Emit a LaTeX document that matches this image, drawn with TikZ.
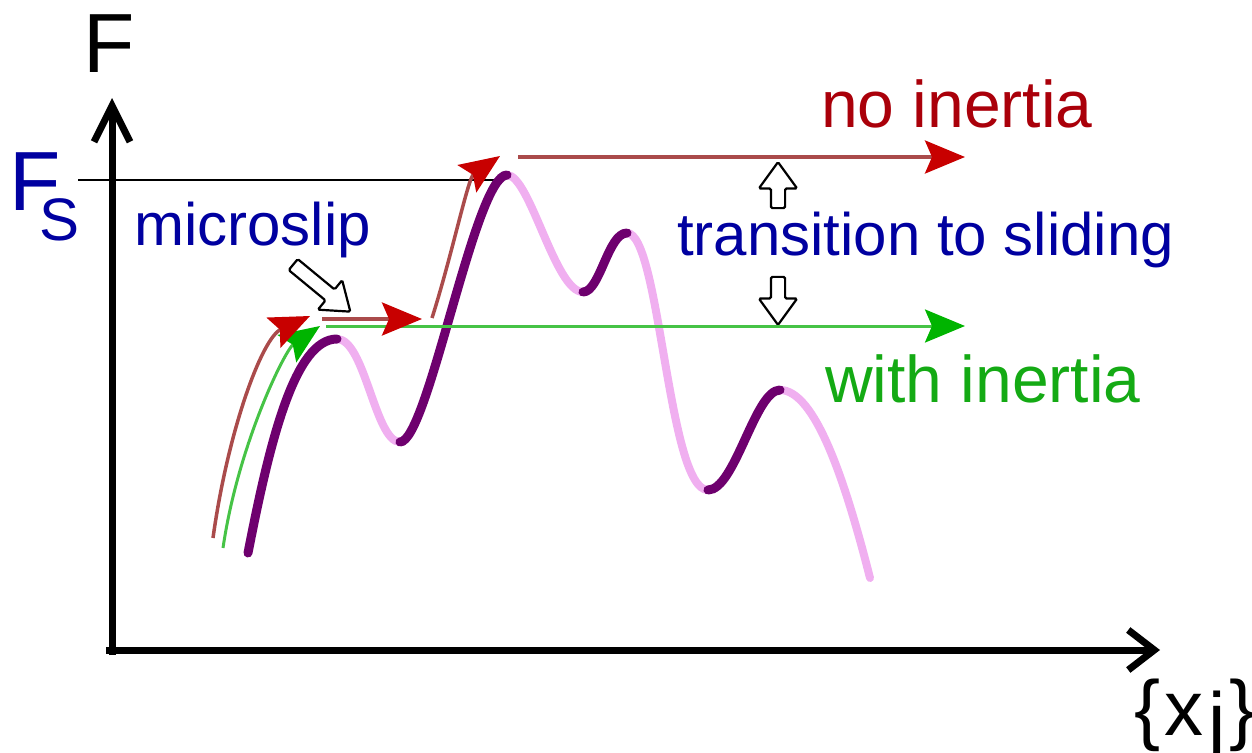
\documentclass[tikz,border=0pt]{standalone}
\usepackage{fontspec}
\setmainfont{Liberation Sans}
\usetikzlibrary{arrows.meta,shapes.arrows}
\definecolor{txtblue}{RGB}{0,0,160}
\definecolor{txtred}{RGB}{170,0,10}
\definecolor{txtgreen}{RGB}{20,170,20}
\definecolor{headred}{RGB}{200,0,0}
\definecolor{linered}{RGB}{170,75,75}
\definecolor{headgreen}{RGB}{0,180,0}
\definecolor{linegreen}{RGB}{70,195,70}
\definecolor{darkpurple}{RGB}{110,0,110}
\definecolor{lightpink}{RGB}{240,175,240}
\begin{document}
\begin{tikzpicture}[x=1pt,y=-1pt,
  axisline/.style={line width=7pt},
  pinkseg/.style={draw=lightpink, line width=8pt, line cap=round},
  darkseg/.style={draw=darkpurple, line width=9pt, line cap=round},
  redarrow/.style={draw=linered, line width=3.5pt,
    -{Stealth[length=40pt,width=33pt,inset=7pt,color=headred]}},
  greenarrow/.style={draw=linegreen, line width=3pt,
    -{Stealth[length=40pt,width=33pt,inset=7pt,color=headgreen]}},
  hollow/.style={single arrow, draw=black, fill=white, line width=2.2pt,
    inner sep=6pt, single arrow head extend=12pt, single arrow tip angle=72,
    rounded corners=1.5pt},
  lbl/.style={inner sep=0pt, anchor=base west}
]
\useasboundingbox (0,0) rectangle (1252,752);

% F_S level line
\coordinate (fsl) at (78,180);
\coordinate (fsr) at (498,180);
\draw[line width=2pt] (fsl) -- (fsr);

% energy landscape curve
\coordinate (p0) at (248,553);
\coordinate (p1) at (337,339);
\coordinate (p2) at (400,442);
\coordinate (p3) at (507,175);
\coordinate (p4) at (583,292);
\coordinate (p5) at (627,233);
\coordinate (p6) at (708,490);
\coordinate (p7) at (780,390);
\coordinate (p8) at (870,578);
\draw[pinkseg] (p1) .. controls (365,339) and (375,442) .. (p2);
\draw[pinkseg] (p3) .. controls (530,175) and (555,292) .. (p4);
\draw[pinkseg] (p5) .. controls (660,233) and (668,490) .. (p6);
\draw[pinkseg] (p7) .. controls (815,390) and (845,480) .. (p8);
\draw[darkseg] (p0) .. controls (270,440) and (295,339) .. (p1);
\draw[darkseg] (p2) .. controls (428,442) and (475,175) .. (p3);
\draw[darkseg] (p4) .. controls (600,292) and (608,233) .. (p5);
\draw[darkseg] (p6) .. controls (735,490) and (755,390) .. (p7);

% no inertia path (red)
\coordinate (r1a) at (213,538);
\coordinate (r1b) at (310,316);
\coordinate (r2a) at (322,319);
\coordinate (r2b) at (422,319);
\coordinate (r3a) at (432,318);
\coordinate (r3b) at (500,156);
\coordinate (r4a) at (518,157);
\coordinate (r4b) at (965,157);
% with inertia path (green)
\coordinate (g1a) at (223,548);
\coordinate (g1b) at (320,326);
\coordinate (g2a) at (326,326);
\coordinate (g2b) at (965,326);

\draw[greenarrow] (g1a) .. controls (238,445) and (285,350) .. (g1b);
\draw[greenarrow] (g2a) -- (g2b);
\draw[redarrow] (r1a) .. controls (228,430) and (262,338) .. (r1b);
\draw[redarrow] (r2a) -- (r2b);
\draw[redarrow] (r3a) .. controls (452,255) and (468,178) .. (r3b);
\draw[redarrow] (r4a) -- (r4b);

% hollow pointer arrows
\node[hollow, minimum height=74pt, rotate=-39.5] (msarrow) at (318,285) {};
\node[hollow, minimum height=46pt, rotate=90] (uparrow) at (778,190) {};
\node[hollow, minimum height=48pt, rotate=-90] (downarrow) at (778,296) {};

% axes
\coordinate (origin) at (112,650);
\coordinate (ytop) at (112,98);
\coordinate (xend) at (1160,650);
\draw[axisline, -{Straight Barb[length=36pt,width=36pt]}] (112,655) -- (ytop);
\draw[axisline, -{Straight Barb[length=26pt,width=40pt]}] (106,650) -- (xend);

% labels
\node[inner sep=0pt, anchor=base] (flab) at (109,73) {\fontsize{84}{90}\selectfont F};
\node[lbl, text=txtblue] (fslab) at (9,210) {\fontsize{84}{90}\selectfont F};
\node[lbl, text=txtblue] (fssub) at (39,240) {\fontsize{60}{70}\selectfont S};
\node[lbl, text=txtblue] (micro) at (134,245) {\fontsize{60}{70}\selectfont microslip};
\node[lbl, text=txtblue] (trans) at (677,255) {\fontsize{60}{70}\selectfont transition to sliding};
\node[lbl, text=txtred] (noin) at (821,127) {\fontsize{66}{76}\selectfont no inertia};
\node[lbl, text=txtgreen] (within) at (825,402) {\fontsize{66}{76}\selectfont with inertia};
\node[lbl] (xj) at (1134,735) {\fontsize{78}{90}\selectfont \{\kern4pt x\kern5pt\raisebox{-12pt}{j}\kern4pt\}};
\end{tikzpicture}
\end{document}
